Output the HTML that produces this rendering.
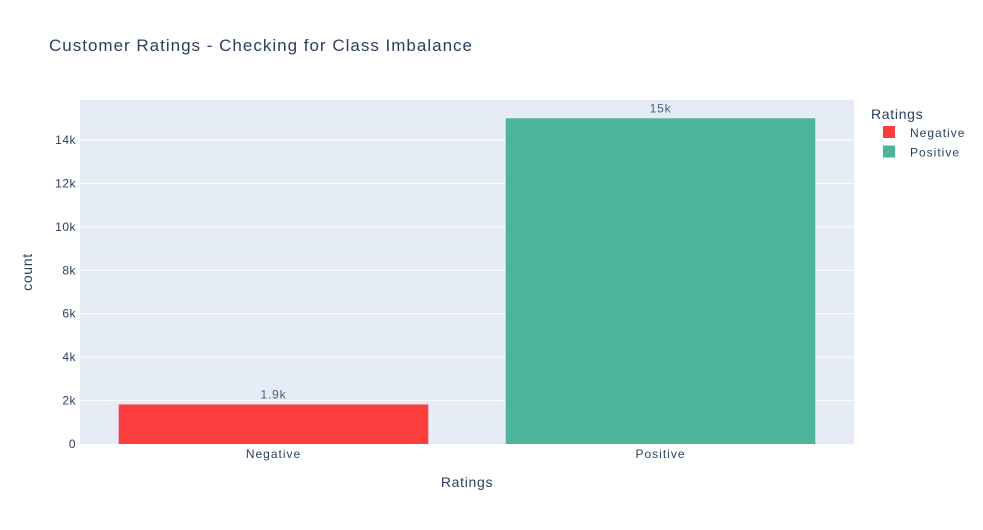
<!DOCTYPE html>
<html><head><meta charset="utf-8"><style>
body{margin:0;background:#fff;font-family:"Liberation Sans",Arial,sans-serif;}
svg text{font-family:"Liberation Sans",Arial,sans-serif;}
</style></head><body>
<svg id="chart" width="983" height="525" xmlns="http://www.w3.org/2000/svg">
<rect width="983" height="525" fill="#fff"/>
<text x="49" y="51" font-size="17" letter-spacing="1" fill="#2a3f5f">Customer Ratings - Checking for Class Imbalance</text>
<rect x="80" y="100" width="774" height="344" fill="#e5ecf6"/>
<g id="grid"></g>
<g id="bars"></g>
<g id="yticks"></g>
<g id="xticks"></g>
<text x="467" y="487" font-size="14" letter-spacing="0.7" fill="#2a3f5f" text-anchor="middle">Ratings</text>
<text transform="translate(32,272) rotate(-90)" font-size="14" letter-spacing="0.7" fill="#2a3f5f" text-anchor="middle">count</text>
<text x="871" y="119" font-size="14" letter-spacing="0.7" fill="#2a3f5f">Ratings</text>
<g id="legend"></g>
</svg>
<script>
const categories=["Negative","Positive"];
const counts=[1820,15000];
const labels=["1.9k","15k"];
const colors=["#fc3d3e","#4db39a"];
const yTicks=[0,2000,4000,6000,8000,10000,12000,14000];
const yTickLabels=["0","2k","4k","6k","8k","10k","12k","14k"];
const NS="http://www.w3.org/2000/svg";
const L=80,R=854,T=100,B=444,yMax=15842;
const y=v=>B-(v/yMax)*(B-T);
const band=(R-L)/categories.length;
const xc=i=>L+band*(i+0.5);
function mk(tag,attrs,parent,txt){const e=document.createElementNS(NS,tag);for(const k in attrs)e.setAttribute(k,attrs[k]);if(txt!==undefined)e.textContent=txt;document.getElementById(parent).appendChild(e);return e;}
yTicks.forEach((t,i)=>{
  if(t>0){const g=mk('line',{x1:L,x2:R,y1:y(t),y2:y(t),stroke:'#fff','stroke-width':1},'grid');
  
  }
  const tx=mk('text',{x:L-4,y:y(t)+4,'font-size':12,'letter-spacing':0.5,fill:'#2a3f5f','text-anchor':'end'},'yticks',yTickLabels[i]);
  
  
});
categories.forEach((c,i)=>{
  const w=band*0.8;
  const b=mk('rect',{x:xc(i)-w/2,y:y(counts[i]),width:w,height:B-y(counts[i]),fill:colors[i]},'bars');
  
  
  const v=mk('text',{x:xc(i),y:y(counts[i])-6,'font-size':12,'letter-spacing':0.8,fill:'#4a5f7f','text-anchor':'middle'},'bars',labels[i]);
  
  
  const xt=mk('text',{x:xc(i),y:B+14,'font-size':12,'letter-spacing':1,fill:'#2a3f5f','text-anchor':'middle'},'xticks',c);
  
  
  const ly=132+i*19.5;
  const s=mk('rect',{x:883,y:ly-6,width:12,height:12,fill:colors[i]},'legend');
  
  
  const lt=mk('text',{x:910,y:ly+5,'font-size':12,'letter-spacing':1,fill:'#2a3f5f'},'legend',c);
  
  
});
</script>
</body></html>
